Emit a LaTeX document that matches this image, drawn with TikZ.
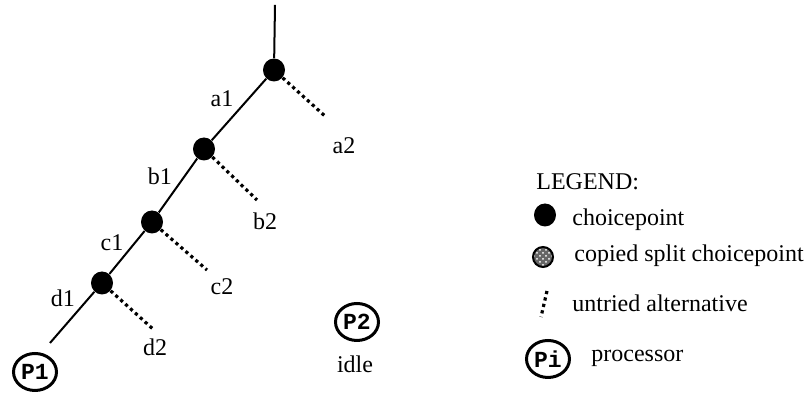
\documentclass[tikz,border=0pt]{standalone}
\usepackage{fontspec}
\setmainfont{Liberation Serif}
\setmonofont{Liberation Mono}
\usetikzlibrary{shapes.geometric,patterns}
\definecolor{ink}{RGB}{0,0,0}

\tikzset{
  choicept/.style={ellipse,fill=ink,minimum width=11pt,minimum height=11.5pt,inner sep=0pt},
  splitpt/.style={circle,draw=ink,line width=1pt,preaction={fill=ink!60},
     pattern=crosshatch dots,pattern color=white,minimum size=10pt,inner sep=0pt},
  procnode/.style={ellipse,draw=ink,line width=1.5pt,minimum width=21.5pt,minimum height=18.5pt,
     inner sep=0pt,text=ink,font=\ttfamily\bfseries\fontsize{11.5}{12}\selectfont},
  branch/.style={draw=ink,line width=1pt},
  untried/.style={draw=ink,line width=1.6pt,dash pattern=on 1.6pt off 1.7pt},
  lbl/.style={text=ink,font=\fontsize{12}{14}\selectfont,inner sep=0pt},
}

\begin{document}
\begin{tikzpicture}[x=0.5pt,y=0.5pt]
  \useasboundingbox (0,0) rectangle (811,394);
  % the left-most branch of the search tree
  \foreach \n/\x/\y in {a/274/324, b/204/245, c/152/172, d/102/111}{
     \node[choicept] (\n) at (\x,\y) {};
  }
  \coordinate (top) at (275,389);
  \coordinate (p1end) at (50,51);
  \draw[branch] (top) -- (a) -- (b) -- (c) -- (d) -- (p1end);
  % alternatives not yet tried
  \foreach \n/\x/\y in {a/326/277, b/257/194, c/207/124, d/154/64}{
     \coordinate (alt\n) at (\x,\y);
     \draw[untried] (\n) -- (alt\n);
  }
  \foreach \t/\x/\y in {a1/222/295, a2/344/248, b1/160/218, b2/265/173,
                        c1/112/151, c2/222/107, d1/63/96, d2/155/47}{
     \node[lbl] (l\t) at (\x,\y) {\t};
  }
  % processors
  \node[procnode] (p1) at (35,22) {P1};
  \node[procnode] (p2) at (357,72) {P2};
  \node[lbl] (idle) at (355,30) {idle};
  % legend
  \node[lbl,anchor=west] (legend) at (536,212) {LEGEND:};
  \node[choicept] (kcp) at (545,179) {};
  \node[lbl,anchor=west] (tcp) at (572,174) {choicepoint};
  \node[splitpt] (ksplit) at (543,137) {};
  \node[lbl,anchor=west] (tsplit) at (574,138) {copied split choicepoint};
  \coordinate (kalt1) at (547,103);
  \coordinate (kalt2) at (541,77);
  \draw[untried] (kalt1) -- (kalt2);
  \node[lbl,anchor=west] (talt) at (572,91) {untried alternative};
  \node[procnode] (kproc) at (548,35) {Pi};
  \node[lbl,anchor=west] (tproc) at (591,36) {processor};
\end{tikzpicture}
\end{document}
